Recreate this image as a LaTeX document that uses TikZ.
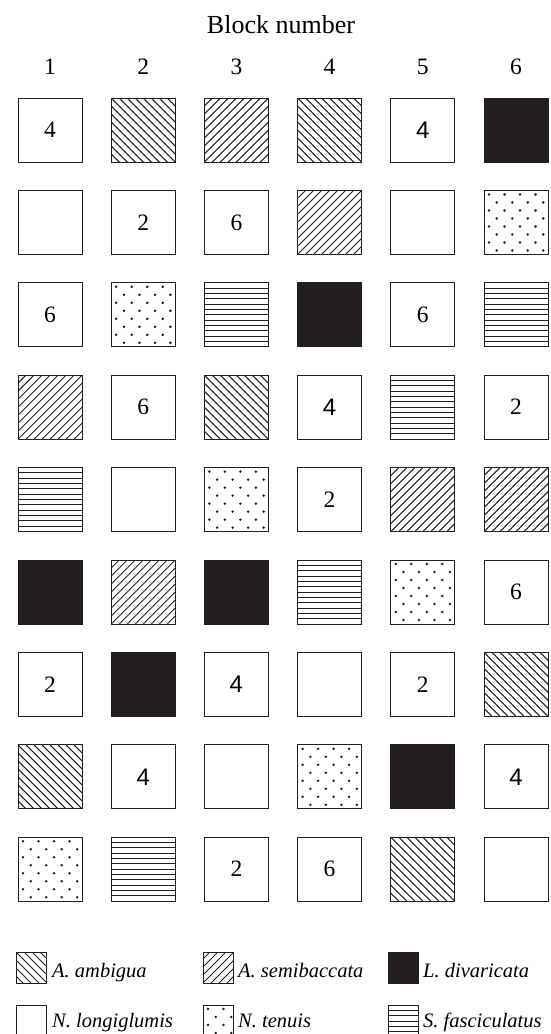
\documentclass[tikz,border=0pt]{standalone}
\usepackage{fontspec}
\setmainfont{Liberation Serif}
\newfontfamily\sansf{Liberation Sans}
\usetikzlibrary{calc}
\definecolor{ink}{HTML}{231F20}

\tikzset{
  cellbox/.style={draw=ink, line width=0.9pt, minimum width=64pt, minimum height=64pt,
    inner sep=0pt, font=\fontsize{23.5}{23.5}\selectfont},
  legbox/.style={draw=ink, line width=0.9pt, minimum width=30pt, minimum height=31pt, inner sep=0pt},
  legtext/.style={font=\fontsize{20.5}{20.5}\selectfont\itshape, inner sep=0pt, anchor=base west},
  headtext/.style={font=\fontsize{23.5}{23.5}\selectfont, inner sep=0pt, anchor=base},
  hatchline/.style={draw=ink, line width=1pt},
  ambig/.style={path picture={
      \foreach \i in {-80,-72,...,80} {
        \draw[hatchline] ($(path picture bounding box.north west)+(\i,0)$) -- ++(100,100);
      }}},
  semib/.style={path picture={
      \foreach \i in {-80,-72,...,80} {
        \draw[hatchline] ($(path picture bounding box.south west)+(\i,0)$) -- ++(100,-100);
      }}},
  divar/.style={fill=ink},
  longi/.style={},
  fasci/.style={path picture={
      \foreach \k in {1,...,11} {
        \draw[hatchline] ($(path picture bounding box.north west)+(-2,{\k*64/12})$) -- ++(80,0);
      }}},
  tenui/.style={path picture={
      \foreach \yy in {4,20,36,52} {
        \foreach \xx in {5,20.5,36,51.5} {
          \fill[ink] ($(path picture bounding box.north west)+(\xx,\yy)$) circle (1.4);
        }}
      \foreach \yy in {12,28,44,60} {
        \foreach \xx in {12.75,28.25,43.75,59.25} {
          \fill[ink] ($(path picture bounding box.north west)+(\xx,\yy)$) circle (1.4);
        }}
      }},
}

\newcommand\cellat[4]{\node[cellbox,#3] (c#1#2) at ({50+93.2*(#2-1)},{130+92.4*(#1-1)}) {#4};}
\newcommand\sansdig[1]{{\sansf\fontsize{24}{24}\selectfont #1}}

\begin{document}
\begin{tikzpicture}[x=1pt,y=-1pt]
\useasboundingbox (0,0) rectangle (550,1034);

\node[headtext, font=\fontsize{26}{26}\selectfont] (title) at (281,33) {Block number};
\foreach \c in {1,...,6} {
  \node[headtext] (h\c) at ({50+93.2*(\c-1)},74.5) {\c};
}

% row 1
\cellat{1}{1}{longi}{4}
\cellat{1}{2}{ambig}{}
\cellat{1}{3}{semib}{}
\cellat{1}{4}{ambig}{}
\cellat{1}{5}{longi}{\sansdig{4}}
\cellat{1}{6}{divar}{}
% row 2
\cellat{2}{1}{longi}{}
\cellat{2}{2}{longi}{2}
\cellat{2}{3}{longi}{6}
\cellat{2}{4}{semib}{}
\cellat{2}{5}{longi}{}
\cellat{2}{6}{tenui}{}
% row 3
\cellat{3}{1}{longi}{6}
\cellat{3}{2}{tenui}{}
\cellat{3}{3}{fasci}{}
\cellat{3}{4}{divar}{}
\cellat{3}{5}{longi}{6}
\cellat{3}{6}{fasci}{}
% row 4
\cellat{4}{1}{semib}{}
\cellat{4}{2}{longi}{6}
\cellat{4}{3}{ambig}{}
\cellat{4}{4}{longi}{\sansdig{4}}
\cellat{4}{5}{fasci}{}
\cellat{4}{6}{longi}{2}
% row 5
\cellat{5}{1}{fasci}{}
\cellat{5}{2}{longi}{}
\cellat{5}{3}{tenui}{}
\cellat{5}{4}{longi}{2}
\cellat{5}{5}{semib}{}
\cellat{5}{6}{semib}{}
% row 6
\cellat{6}{1}{divar}{}
\cellat{6}{2}{semib}{}
\cellat{6}{3}{divar}{}
\cellat{6}{4}{fasci}{}
\cellat{6}{5}{tenui}{}
\cellat{6}{6}{longi}{6}
% row 7
\cellat{7}{1}{longi}{2}
\cellat{7}{2}{divar}{}
\cellat{7}{3}{longi}{\sansdig{4}}
\cellat{7}{4}{longi}{}
\cellat{7}{5}{longi}{2}
\cellat{7}{6}{ambig}{}
% row 8
\cellat{8}{1}{ambig}{}
\cellat{8}{2}{longi}{\sansdig{4}}
\cellat{8}{3}{longi}{}
\cellat{8}{4}{tenui}{}
\cellat{8}{5}{divar}{}
\cellat{8}{6}{longi}{\sansdig{4}}
% row 9
\cellat{9}{1}{tenui}{}
\cellat{9}{2}{fasci}{}
\cellat{9}{3}{longi}{2}
\cellat{9}{4}{longi}{6}
\cellat{9}{5}{ambig}{}
\cellat{9}{6}{longi}{}

% legend
\node[legbox,ambig] (l1) at (31,967.5) {};
\node[legbox,semib] (l2) at (218,967.5) {};
\node[legbox,divar] (l3) at (403.5,967.5) {};
\node[legbox,longi] (l4) at (31,1020.5) {};
\node[legbox,tenui] (l5) at (218,1020.5) {};
\node[legbox,fasci] (l6) at (403.5,1020.5) {};

\node[legtext] (t1) at (52,977) {A. ambigua};
\node[legtext] (t2) at (238,977) {A. semibaccata};
\node[legtext] (t3) at (423,977) {L. divaricata};
\node[legtext] (t4) at (52,1027) {N. longiglumis};
\node[legtext] (t5) at (238,1027) {N. tenuis};
\node[legtext] (t6) at (423,1027) {S. fasciculatus};
\end{tikzpicture}
\end{document}
